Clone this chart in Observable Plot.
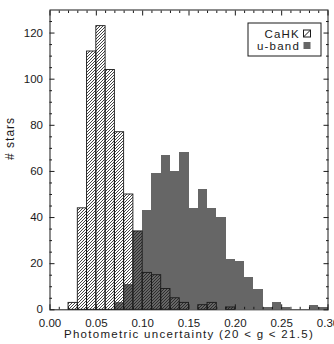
<!DOCTYPE html>
<html>
<head>
<meta charset="utf-8">
<script src="https://cdn.jsdelivr.net/npm/d3@7"></script>
<script src="https://cdn.jsdelivr.net/npm/@observablehq/plot@0.6"></script>
<style>
  html, body { margin: 0; padding: 0; background: #fff; }
  #chart svg { display: block; }
</style>
</head>
<body>
<div id="chart"></div>
<script>
// Histogram bin lower edges (bin width 0.01)
const binLo = [0.00, 0.01, 0.02, 0.03, 0.04, 0.05, 0.06, 0.07, 0.08, 0.09,
               0.10, 0.11, 0.12, 0.13, 0.14, 0.15, 0.16, 0.17, 0.18, 0.19,
               0.20, 0.21, 0.22, 0.23, 0.24, 0.25, 0.26, 0.27, 0.28, 0.29];
const binHi = [0.01, 0.02, 0.03, 0.04, 0.05, 0.06, 0.07, 0.08, 0.09, 0.10,
               0.11, 0.12, 0.13, 0.14, 0.15, 0.16, 0.17, 0.18, 0.19, 0.20,
               0.21, 0.22, 0.23, 0.24, 0.25, 0.26, 0.27, 0.28, 0.29, 0.30];
// Counts per bin
const cahkCounts  = [0, 0, 3, 44, 112, 123, 104, 77, 50, 34,
                     16, 15, 9, 5, 3, 0, 2, 3, 0, 1,
                     0, 0, 0, 0, 0, 0, 0, 0, 0, 0];
const ubandCounts = [0, 0, 0, 0, 0, 0, 0, 3, 11, 34,
                     43, 59, 67, 60, 68, 44, 52, 44, 40, 22,
                     21, 14, 9, 1, 3, 1, 0, 0, 2, 1];
// Axis ticks
const xMajor = [0.00, 0.05, 0.10, 0.15, 0.20, 0.25, 0.30];
const xMinor = [0.01, 0.02, 0.03, 0.04, 0.06, 0.07, 0.08, 0.09, 0.11, 0.12, 0.13, 0.14,
                0.16, 0.17, 0.18, 0.19, 0.21, 0.22, 0.23, 0.24, 0.26, 0.27, 0.28, 0.29];
const xTickLabels = ["0.00", "0.05", "0.10", "0.15", "0.20", "0.25", "0.30"];
const yMajor = [0, 20, 40, 60, 80, 100, 120];
const yMinor = [5, 10, 15, 25, 30, 35, 45, 50, 55, 65, 70, 75, 85, 90, 95, 105, 110, 115, 125];
const yTickLabels = ["0", "20", "40", "60", "80", "100", "120"];
const seriesNames = ["CaHK", "u-band"];
const xTitle = "Photometric uncertainty (20 < g < 21.5)";
const yTitle = "# stars";

const toRows = (counts) => binLo.map((lo, i) => ({lo, hi: binHi[i], n: counts[i]})).filter(d => d.n > 0);
const cahk = toRows(cahkCounts);
const uband = toRows(ubandCounts);

const FONT = "'Liberation Sans', Arial, sans-serif";
const GRAY = "#666666";
const INK = "#1a1a1a";

const plot = Plot.plot({
  width: 334,
  height: 344,
  marginLeft: 49.5,
  marginRight: 6.5,
  marginTop: 9.5,
  marginBottom: 34.7,
  style: {fontFamily: FONT, fontSize: "11.5px", color: INK, background: "#fff", overflow: "visible"},
  x: {domain: [0, 0.30]},
  y: {domain: [0, 130]},
  marks: [
    Plot.rect(uband, {x1: "lo", x2: "hi", y1: 0, y2: "n", fill: GRAY, inset: 0, shapeRendering: "crispEdges"}),
    Plot.rect(cahk, {x1: "lo", x2: "hi", y1: 0, y2: "n", inset: 0, fill: "url(#hatch)", stroke: INK, strokeWidth: 0.9}),
    Plot.frame({stroke: INK, strokeWidth: 1}),
    // tick labels
    Plot.axisX(xMajor, {anchor: "bottom", tickSize: 0, tickPadding: 9.5, tickFormat: (d, i) => xTickLabels[i], label: null, fontSize: 11.5}),
    Plot.axisY(yMajor, {anchor: "left", tickSize: 0, tickPadding: 7, tickFormat: (d, i) => yTickLabels[i], label: null, fontSize: 11.5}),
    // inward ticks on all four sides
    Plot.axisX(xMajor, {anchor: "bottom", tickSize: -5, text: null, label: null}),
    Plot.axisX(xMinor, {anchor: "bottom", tickSize: -2.5, text: null, label: null}),
    Plot.axisX(xMajor, {anchor: "top", tickSize: -5, text: null, label: null}),
    Plot.axisX(xMinor, {anchor: "top", tickSize: -2.5, text: null, label: null}),
    Plot.axisY(yMajor, {anchor: "left", tickSize: -5, text: null, label: null}),
    Plot.axisY(yMinor, {anchor: "left", tickSize: -2.5, text: null, label: null}),
    Plot.axisY(yMajor, {anchor: "right", tickSize: -5, text: null, label: null}),
    Plot.axisY(yMinor, {anchor: "right", tickSize: -2.5, text: null, label: null}),
    // titles
    Plot.text([xTitle], {frameAnchor: "bottom", dy: 28.5, text: d => d, fontSize: 11.5, fill: INK}),
    Plot.text([yTitle], {frameAnchor: "left", dx: -39.5, rotate: -90, text: d => d, fontSize: 12, fill: INK})
  ]
});

const svg = d3.select(plot);
// wider letter spacing, as in the reference typography
svg.selectAll("text").filter(function() { return this.textContent === xTitle; }).attr("letter-spacing", "1.3px");
svg.selectAll("text").filter(function() { return this.textContent === yTitle; }).attr("letter-spacing", "1px");

// hatch pattern definition
const defs = svg.insert("defs", ":first-child");
const pat = defs.append("pattern").attr("id", "hatch").attr("patternUnits", "userSpaceOnUse")
  .attr("width", 3).attr("height", 3);
pat.append("path").attr("d", "M-1,1 L1,-1 M0,3 L3,0 M2,4 L4,2")
  .attr("stroke", "#222").attr("stroke-width", 0.85).attr("fill", "none");

// legend box (top right, inside the frame)
const lg = svg.append("g").attr("font-family", FONT).attr("font-size", 11.5).attr("fill", INK)
  .attr("letter-spacing", "1.2px");
lg.append("rect").attr("x", 248).attr("y", 23).attr("width", 73).attr("height", 33)
  .attr("fill", "#fff").attr("stroke", INK).attr("stroke-width", 1);
lg.append("text").attr("x", 300).attr("y", 33.5).attr("dy", "0.35em").attr("text-anchor", "end").text(seriesNames[0]);
lg.append("text").attr("x", 300).attr("y", 45.5).attr("dy", "0.35em").attr("text-anchor", "end").text(seriesNames[1]);
lg.append("rect").attr("x", 303.5).attr("y", 30).attr("width", 7).attr("height", 7)
  .attr("fill", "#fff").attr("stroke", INK).attr("stroke-width", 1);
lg.append("path").attr("d", "M303.5,37 L310.5,30").attr("stroke", INK).attr("stroke-width", 1);
lg.append("rect").attr("x", 303.5).attr("y", 42).attr("width", 7).attr("height", 7).attr("fill", GRAY);

document.getElementById("chart").appendChild(plot);
</script>
</body>
</html>
